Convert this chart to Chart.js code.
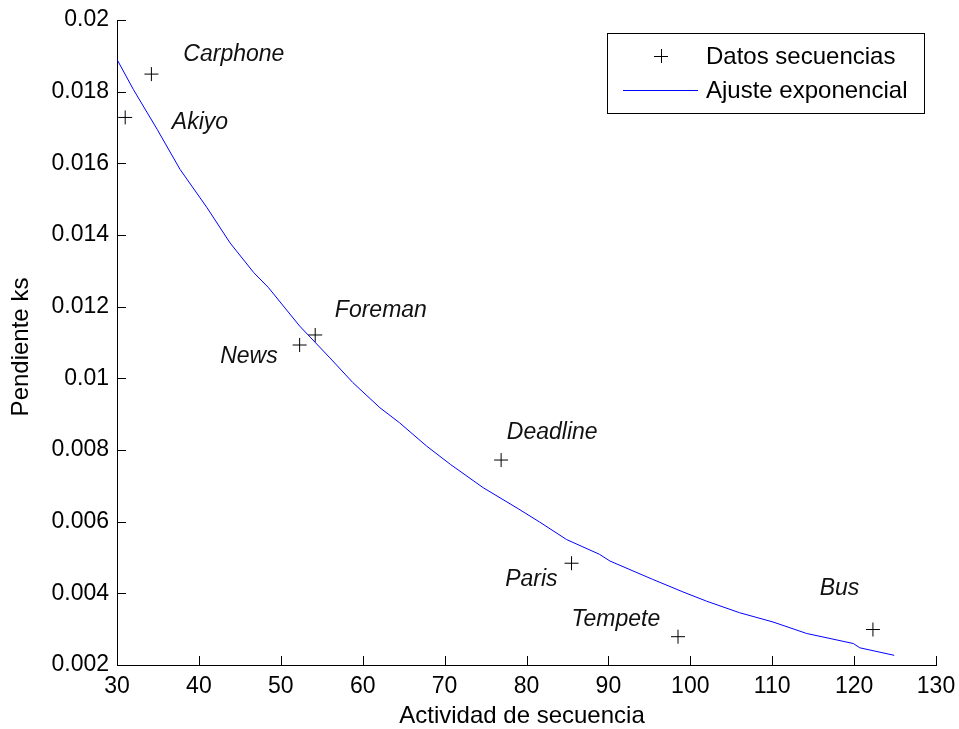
<!DOCTYPE html>
<html>
<head>
<meta charset="utf-8">
<script src="https://cdn.jsdelivr.net/npm/chart.js@4.4.1/dist/chart.umd.min.js"></script>
<style>
html, body { margin: 0; padding: 0; background: #fff; }
#wrap { width: 959px; height: 729px; }
</style>
</head>
<body>
<div id="wrap"><canvas id="chart" width="959" height="729"></canvas></div>
<script>
// measured sequences (activity vs slope ks)
const seqNames = ['Akiyo', 'Carphone', 'News', 'Foreman', 'Deadline', 'Paris', 'Tempete', 'Bus'];
const seqActivity = [31.0, 34.2, 52.3, 54.2, 76.9, 85.5, 98.5, 122.3];
const seqSlope = [0.01728, 0.01849, 0.01093, 0.01121, 0.00772, 0.00484, 0.00279, 0.00299];

// where each name is written (data units: left edge, vertical middle)
const labelX = [36.7, 38.1, 42.6, 56.6, 77.6, 77.4, 85.5, 115.8];
const labelY = [0.01713, 0.01904, 0.01062, 0.01188, 0.00848, 0.00439, 0.00327, 0.00413];

// exponential fit, points
const fitX = [30.0, 32.0, 34.9, 37.7, 41.0, 43.8, 46.7, 48.5, 52.3, 56.0, 58.8, 62.1, 64.5, 67.8, 70.7,
              74.7, 79.0, 81.6, 84.9, 88.9, 90.2, 95.4, 99.1, 102.0, 106.0, 110.1, 114.2, 119.9, 120.7, 124.9];
const fitY = [0.0189, 0.01806, 0.01695, 0.01583, 0.01476, 0.01378, 0.01295, 0.01253, 0.01146, 0.01057,
              0.00988, 0.00918, 0.00876, 0.00811, 0.0076, 0.00695, 0.00636, 0.00599, 0.0055, 0.00509,
              0.0049, 0.00439, 0.00404, 0.00378, 0.00346, 0.0032, 0.00288, 0.0026, 0.00248, 0.00227];

const xTitle = 'Actividad de secuencia';
const yTitle = 'Pendiente ks';
const legendLabels = ['Datos secuencias', 'Ajuste exponencial'];

const FONT = '"Liberation Sans", Arial, sans-serif';

// MATLAB look: inward ticks, annotations, axis titles, boxed legend
const matlabDecor = {
    id: 'matlabDecor',
    afterDraw(chart) {
        const ctx = chart.ctx;
        const xs = chart.scales.x;
        const ys = chart.scales.y;
        ctx.save();
        ctx.strokeStyle = '#000';
        ctx.lineWidth = 1;

        ctx.beginPath();
        xs.ticks.forEach(t => {
            const px = Math.round(xs.getPixelForValue(t.value)) + 0.5;
            ctx.moveTo(px, ys.bottom);
            ctx.lineTo(px, ys.bottom - 9);
        });
        ys.ticks.forEach(t => {
            const py = Math.round(ys.getPixelForValue(t.value)) + 0.5;
            ctx.moveTo(xs.left, py);
            ctx.lineTo(xs.left + 9, py);
        });
        ctx.stroke();

        // sequence names
        ctx.font = 'italic 23px ' + FONT;
        ctx.fillStyle = '#111';
        ctx.textAlign = 'left';
        ctx.textBaseline = 'middle';
        seqNames.forEach((name, i) => {
            ctx.fillText(name, xs.getPixelForValue(labelX[i]), ys.getPixelForValue(labelY[i]));
        });

        // axis titles
        ctx.font = '24px ' + FONT;
        ctx.fillStyle = '#000';
        ctx.textAlign = 'center';
        ctx.fillText(xTitle, 522, 716);
        ctx.save();
        ctx.translate(21, 347);
        ctx.rotate(-Math.PI / 2);
        ctx.fillText(yTitle, 0, 0);
        ctx.restore();

        // legend
        ctx.strokeStyle = '#000';
        ctx.strokeRect(607.5, 33.5, 317, 80);
        ctx.beginPath();
        ctx.moveTo(654, 56.5); ctx.lineTo(668, 56.5);
        ctx.moveTo(661.5, 49); ctx.lineTo(661.5, 63);
        ctx.stroke();
        ctx.strokeStyle = '#0000ff';
        ctx.beginPath();
        ctx.moveTo(623, 90.5); ctx.lineTo(698, 90.5);
        ctx.stroke();
        ctx.textAlign = 'left';
        ctx.fillStyle = '#000';
        ctx.fillText(legendLabels[0], 706, 57);
        ctx.fillText(legendLabels[1], 706, 91);

        ctx.restore();
    }
};

const ctx = document.getElementById('chart').getContext('2d');
new Chart(ctx, {
    type: 'scatter',
    data: {
        datasets: [
            {
                label: legendLabels[0],
                data: seqActivity.map((x, i) => ({ x: x, y: seqSlope[i] })),
                pointStyle: 'cross',
                pointRadius: 7,
                pointBorderWidth: 1,
                borderColor: '#000',
                backgroundColor: '#000',
                showLine: false
            },
            {
                label: legendLabels[1],
                data: fitX.map((x, i) => ({ x: x, y: fitY[i] })),
                showLine: true,
                borderColor: '#0000ff',
                borderWidth: 1,
                pointRadius: 0,
                tension: 0
            }
        ]
    },
    options: {
        responsive: false,
        animation: false,
        events: [],
        layout: { padding: { left: 0, top: 20, right: 23, bottom: 0 } },
        plugins: {
            legend: { display: false },
            tooltip: { enabled: false }
        },
        scales: {
            x: {
                type: 'linear',
                min: 30,
                max: 130,
                grid: { display: false, drawTicks: false },
                border: { display: true, color: '#000', width: 1 },
                ticks: {
                    stepSize: 10,
                    padding: 8,
                    color: '#000',
                    font: { family: FONT, size: 23 },
                    maxRotation: 0
                },
                afterFit(scale) {
                    scale.height = 64;
                    scale.paddingLeft = 0;
                    scale.paddingRight = 0;
                }
            },
            y: {
                type: 'linear',
                min: 0.002,
                max: 0.02,
                grid: { display: false, drawTicks: false },
                border: { display: true, color: '#000', width: 1 },
                ticks: {
                    stepSize: 0.002,
                    padding: 8,
                    color: '#000',
                    font: { family: FONT, size: 23 },
                    callback: v => String(Math.round(v * 1000) / 1000)
                },
                afterFit(scale) {
                    scale.width = 117;
                    scale.paddingTop = 0;
                    scale.paddingBottom = 0;
                }
            }
        }
    },
    plugins: [matlabDecor]
});
</script>
</body>
</html>
